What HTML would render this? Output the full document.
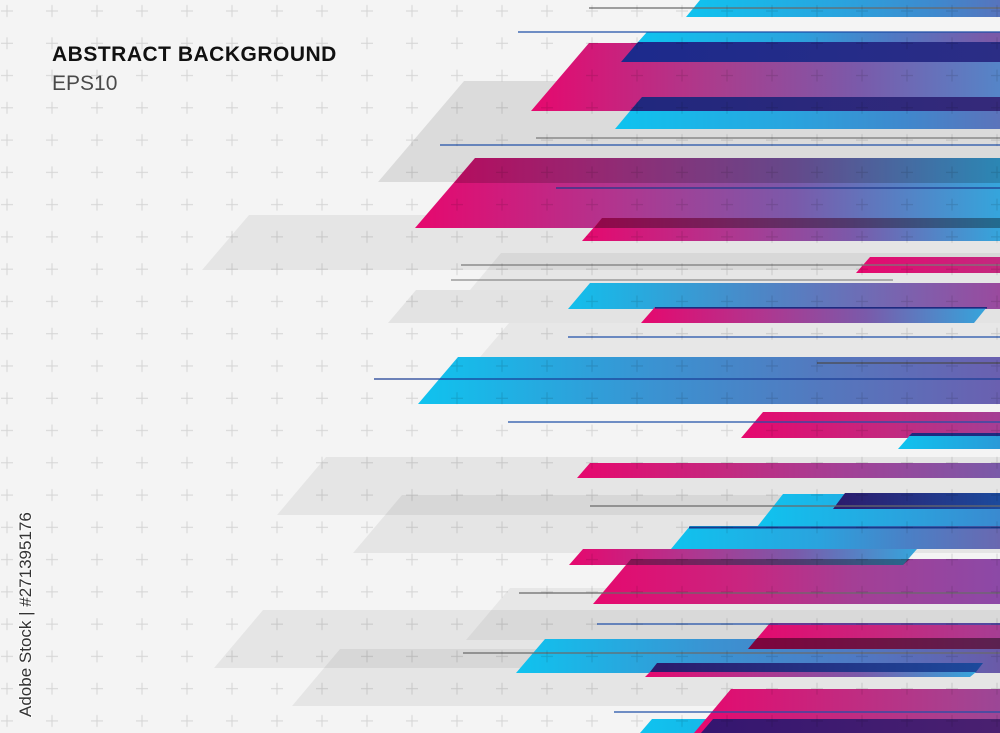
<!DOCTYPE html>
<html><head><meta charset="utf-8"><style>
html,body{margin:0;padding:0;background:#f4f4f4;}
svg{display:block;}
</style></head><body>
<svg width="1000" height="733" viewBox="0 0 1000 733" xmlns="http://www.w3.org/2000/svg">
<defs>
<pattern id="cross" patternUnits="userSpaceOnUse" x="-15.5" y="-5.13" width="45" height="32.27">
<path d="M16.5 16.13H28.5M22.5 10.13V22.13" stroke="#000" stroke-opacity="0.13" stroke-width="1" fill="none"/>
</pattern>
<linearGradient id="big" x1="0" y1="0" x2="1" y2="0">
<stop offset="0" stop-color="#e6086e"/><stop offset="0.35" stop-color="#b0368f"/><stop offset="0.65" stop-color="#7a5aaa"/><stop offset="1" stop-color="#35a5dc"/>
</linearGradient>
<linearGradient id="big3" x1="0" y1="0" x2="1" y2="0">
<stop offset="0" stop-color="#e6086e"/><stop offset="0.4" stop-color="#a83e8e"/><stop offset="0.7" stop-color="#7a5aaa"/><stop offset="1" stop-color="#5585c8"/>
</linearGradient>
<linearGradient id="navy" x1="0" y1="0" x2="1" y2="0">
<stop offset="0" stop-color="#1c2a8c"/><stop offset="1" stop-color="#2b2d85"/>
</linearGradient>
<linearGradient id="navy2" x1="0" y1="0" x2="1" y2="0">
<stop offset="0" stop-color="#20287e"/><stop offset="1" stop-color="#35297a"/>
</linearGradient>
<linearGradient id="navy3" x1="0" y1="0" x2="1" y2="0">
<stop offset="0" stop-color="#2c1a6c"/><stop offset="1" stop-color="#1c4a9c"/>
</linearGradient>
<linearGradient id="dpur" x1="0" y1="0" x2="1" y2="0">
<stop offset="0" stop-color="#341670"/><stop offset="1" stop-color="#4a2070"/>
</linearGradient>
<linearGradient id="c686" gradientUnits="userSpaceOnUse" x1="686" y1="0" x2="1036" y2="0"><stop offset="0" stop-color="#0fc3ef"/><stop offset="0.45" stop-color="#2aa3de"/><stop offset="0.72" stop-color="#3f88cd"/><stop offset="1" stop-color="#6568b3"/></linearGradient>
<linearGradient id="c638" gradientUnits="userSpaceOnUse" x1="638" y1="0" x2="988" y2="0"><stop offset="0" stop-color="#0fc3ef"/><stop offset="0.45" stop-color="#2aa3de"/><stop offset="0.72" stop-color="#4f7ac4"/><stop offset="1" stop-color="#7a5aa8"/></linearGradient>
<linearGradient id="c615" gradientUnits="userSpaceOnUse" x1="615" y1="0" x2="1015" y2="0"><stop offset="0" stop-color="#0fc3ef"/><stop offset="0.45" stop-color="#2aa3de"/><stop offset="0.72" stop-color="#3f88cd"/><stop offset="1" stop-color="#6070b8"/></linearGradient>
<linearGradient id="c568" gradientUnits="userSpaceOnUse" x1="568" y1="0" x2="1000" y2="0"><stop offset="0" stop-color="#12bfec"/><stop offset="0.45" stop-color="#4d86c6"/><stop offset="1" stop-color="#9a4a9e"/></linearGradient>
<linearGradient id="c418" gradientUnits="userSpaceOnUse" x1="418" y1="0" x2="1000" y2="0"><stop offset="0" stop-color="#0fc3ef"/><stop offset="0.4" stop-color="#3a93d2"/><stop offset="0.7" stop-color="#5478be"/><stop offset="1" stop-color="#6a60b0"/></linearGradient>
<linearGradient id="c898" gradientUnits="userSpaceOnUse" x1="898" y1="0" x2="1000" y2="0"><stop offset="0" stop-color="#0fc3ef"/><stop offset="1" stop-color="#2a9ad8"/></linearGradient>
<linearGradient id="c757" gradientUnits="userSpaceOnUse" x1="757" y1="0" x2="1000" y2="0"><stop offset="0" stop-color="#0fc3ef"/><stop offset="0.6" stop-color="#2aa3de"/><stop offset="1" stop-color="#3a8ad0"/></linearGradient>
<linearGradient id="c671" gradientUnits="userSpaceOnUse" x1="671" y1="0" x2="1000" y2="0"><stop offset="0" stop-color="#0fc3ef"/><stop offset="0.45" stop-color="#2aa3de"/><stop offset="0.72" stop-color="#4a80c6"/><stop offset="1" stop-color="#6a68b0"/></linearGradient>
<linearGradient id="c516" gradientUnits="userSpaceOnUse" x1="516" y1="0" x2="1000" y2="0"><stop offset="0" stop-color="#0fc3ef"/><stop offset="0.4" stop-color="#3a93d2"/><stop offset="0.7" stop-color="#4f7ac4"/><stop offset="1" stop-color="#6a5aa8"/></linearGradient>
<linearGradient id="c640" gradientUnits="userSpaceOnUse" x1="640" y1="0" x2="1000" y2="0"><stop offset="0" stop-color="#0fc3ef"/><stop offset="1" stop-color="#3a88cd"/></linearGradient>
<linearGradient id="m856" gradientUnits="userSpaceOnUse" x1="856" y1="0" x2="1276" y2="0"><stop offset="0" stop-color="#e6086e"/><stop offset="0.36" stop-color="#c22a80"/><stop offset="0.62" stop-color="#a43f95"/><stop offset="1" stop-color="#7c58a8"/></linearGradient>
<linearGradient id="m741" gradientUnits="userSpaceOnUse" x1="741" y1="0" x2="1161" y2="0"><stop offset="0" stop-color="#e6086e"/><stop offset="0.36" stop-color="#c22a80"/><stop offset="0.62" stop-color="#a43f95"/><stop offset="1" stop-color="#7c58a8"/></linearGradient>
<linearGradient id="m577" gradientUnits="userSpaceOnUse" x1="577" y1="0" x2="1000" y2="0"><stop offset="0" stop-color="#e6086e"/><stop offset="0.36" stop-color="#c22a80"/><stop offset="0.62" stop-color="#a43f95"/><stop offset="1" stop-color="#7a5aa8"/></linearGradient>
<linearGradient id="m593" gradientUnits="userSpaceOnUse" x1="593" y1="0" x2="1013" y2="0"><stop offset="0" stop-color="#e6086e"/><stop offset="0.36" stop-color="#c82680"/><stop offset="0.62" stop-color="#a43f95"/><stop offset="1" stop-color="#8a4aa8"/></linearGradient>
<linearGradient id="m748" gradientUnits="userSpaceOnUse" x1="748" y1="0" x2="1168" y2="0"><stop offset="0" stop-color="#e6086e"/><stop offset="0.36" stop-color="#c22a80"/><stop offset="0.62" stop-color="#a43f95"/><stop offset="1" stop-color="#7c58a8"/></linearGradient>
<linearGradient id="m694" gradientUnits="userSpaceOnUse" x1="694" y1="0" x2="1114" y2="0"><stop offset="0" stop-color="#e6086e"/><stop offset="0.36" stop-color="#c22a80"/><stop offset="0.62" stop-color="#a8408f"/><stop offset="1" stop-color="#7c58a8"/></linearGradient>
</defs>

<rect width="1000" height="733" fill="#f4f4f4"/>

<g fill="#000">
<polygon points="464,81 1000,81 1000,182 378,182" fill-opacity="0.1"/>
<polygon points="249,215 1000,215 1000,270 202,270" fill-opacity="0.06"/>
<polygon points="501,253 1000,253 1000,290 470,290" fill-opacity="0.055"/>
<polygon points="416,290 1000,290 1000,323 388,323" fill-opacity="0.065"/>
<polygon points="509,323 1000,323 1000,357 480,357" fill-opacity="0.05"/>
<polygon points="326,457 1000,457 1000,515 277,515" fill-opacity="0.06"/>
<polygon points="402,495 1000,495 1000,553 353,553" fill-opacity="0.06"/>
<polygon points="510,588 1000,588 1000,640 466,640" fill-opacity="0.05"/>
<polygon points="263,610 1000,610 1000,668 214,668" fill-opacity="0.06"/>
<polygon points="340,649 1000,649 1000,706 292,706" fill-opacity="0.06"/>
</g>

<polygon points="700,0 1000,0 1000,17 686,17" fill="url(#c686)"/>
<polygon points="647,32 1000,32 1000,42 638,42" fill="url(#c638)"/>
<polygon points="589,43 1000,43 1000,111 531,111" fill="url(#big3)"/>
<polygon points="638,42 1000,42 1000,62 621,62" fill="url(#navy)"/>
<polygon points="642,97 1000,97 1000,111 630,111" fill="url(#navy2)"/>
<polygon points="630,111 1000,111 1000,129 615,129" fill="url(#c615)"/>

<polygon points="475,158 1000,158 1000,228 415,228" fill="url(#big)"/>
<polygon points="475,158 1000,158 1000,183 454,183" fill="#000" fill-opacity="0.18"/>
<polygon points="602,218 1000,218 1000,241 582,241" fill="url(#big)"/>
<polygon points="602,218 1000,218 1000,228 594,228" fill="#000" fill-opacity="0.35"/>

<polygon points="870,257 1000,257 1000,273 856,273" fill="url(#m856)"/>
<polygon points="590,283 1000,283 1000,309 568,309" fill="url(#c568)"/>
<polygon points="655,307 987,307 974,323 641,323" fill="url(#big)"/>
<line x1="655" y1="307.8" x2="987" y2="307.8" stroke="#1e2a80" stroke-width="1.6"/>

<polygon points="458,357 1000,357 1000,404 418,404" fill="url(#c418)"/>
<polygon points="763,412 1000,412 1000,438 741,438" fill="url(#m741)"/>
<polygon points="912,433 1000,433 1000,449 898,449" fill="url(#c898)"/>
<polygon points="912,433 1000,433 1000,436 909,436" fill="#1e2a80"/>

<polygon points="590,463 1000,463 1000,478 577,478" fill="url(#m577)"/>
<polygon points="783,494 1000,494 1000,527 757,527" fill="url(#c757)"/>
<polygon points="845,493 1000,493 1000,509 833,509" fill="url(#navy3)"/>
<polygon points="690,526 1000,526 1000,549 671,549" fill="url(#c671)"/>
<line x1="689" y1="527.5" x2="1000" y2="527.5" stroke="#1a3a8c" stroke-width="2"/>
<polygon points="631,559 1000,559 1000,604 593,604" fill="url(#m593)"/>
<polygon points="583,549 917,549 903,565 569,565" fill="url(#big)"/>
<polygon points="631,559 910,559 903,565 626,565" fill="#000" fill-opacity="0.35"/>

<polygon points="545,639 1000,639 1000,673 516,673" fill="url(#c516)"/>
<polygon points="770,623 1000,623 1000,649 748,649" fill="url(#m748)"/>
<polygon points="757,638 1000,638 1000,649 748,649" fill="#000" fill-opacity="0.45"/>
<polygon points="657,663 983,663 976,672 650,672" fill="url(#navy3)"/>
<polygon points="650,672 976,672 970,677 645,677" fill="url(#big)"/>

<polygon points="652,719 1000,719 1000,733 640,733" fill="url(#c640)"/>
<polygon points="731,689 1000,689 1000,733 694,733" fill="url(#m694)"/>
<polygon points="713,719 1000,719 1000,733 701,733" fill="url(#dpur)"/>

<g stroke-width="1.3" fill="none">
<line x1="589" y1="8" x2="1000" y2="8" stroke="#6a6a6a"/>
<line x1="518" y1="32" x2="1000" y2="32" stroke="#1f4fa8"/>
<line x1="536" y1="138" x2="1000" y2="138" stroke="#7a7a7a"/>
<line x1="440" y1="145" x2="1000" y2="145" stroke="#2050a8"/>
<line x1="556" y1="188" x2="1000" y2="188" stroke="#1e3a8a"/>
<line x1="461" y1="265" x2="1000" y2="265" stroke="#7a7a7a"/>
<line x1="451" y1="280" x2="893" y2="280" stroke="#8a8a8a"/>
<line x1="568" y1="337" x2="1000" y2="337" stroke="#1f4fa8"/>
<line x1="817" y1="363" x2="1000" y2="363" stroke="#4a4a4a"/>
<line x1="374" y1="379" x2="1000" y2="379" stroke="#1a3c95"/>
<line x1="508" y1="422" x2="1000" y2="422" stroke="#1f4fa8"/>
<line x1="590" y1="506" x2="1000" y2="506" stroke="#6a6a6a"/>
<line x1="519" y1="593" x2="1000" y2="593" stroke="#6a6a6a"/>
<line x1="597" y1="624" x2="1000" y2="624" stroke="#1f4fa8"/>
<line x1="463" y1="653" x2="1000" y2="653" stroke="#6a6a6a"/>
<line x1="614" y1="712" x2="1000" y2="712" stroke="#1f4fa8"/>
</g>

<rect width="1000" height="733" fill="url(#cross)"/>

<text x="52" y="61" font-family="Liberation Sans, sans-serif" font-weight="bold" font-size="21" letter-spacing="0.5" fill="#111">ABSTRACT BACKGROUND</text>
<text x="52" y="90" font-family="Liberation Sans, sans-serif" font-size="21" fill="#4a4a4a">EPS10</text>
<text transform="translate(31,717) rotate(-90)" font-family="Liberation Sans, sans-serif" font-size="17" fill="#333" style="paint-order:stroke" stroke="#ffffff" stroke-opacity="0.6" stroke-width="2">Adobe Stock | #271395176</text>
</svg>
</body></html>
